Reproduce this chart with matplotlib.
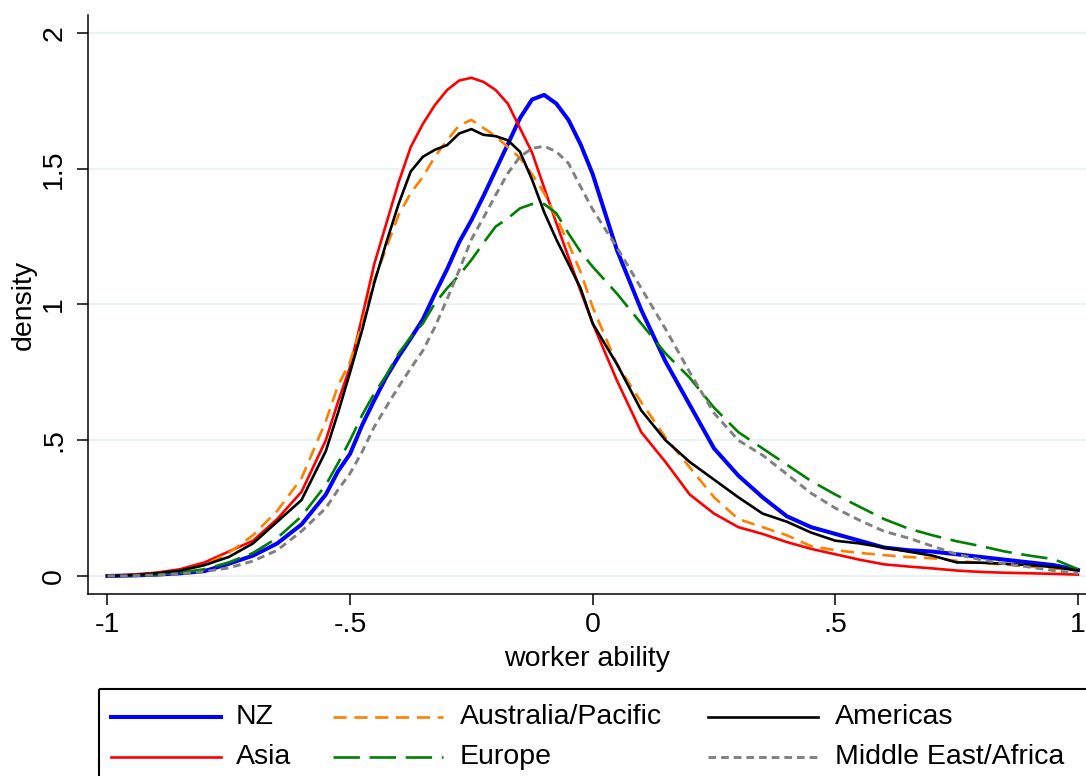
# -*- coding: utf_8 -*-
import numpy as np
import matplotlib
matplotlib.use('Agg')
import matplotlib.pyplot as plt
from matplotlib.patches import Rectangle
from matplotlib.lines import Line2D

plt.rcParams['font.family'] = ['Liberation Sans', 'DejaVu Sans']
plt.rcParams['lines.scale_dashes'] = False

# worker ability grid (finer around the peaks) and densities
ability = [-1.0, -0.95, -0.9, -0.85, -0.8, -0.75, -0.7, -0.65, -0.6, -0.55,
           -0.525, -0.5, -0.475, -0.45, -0.425, -0.4, -0.375, -0.35, -0.325, -0.3,
           -0.275, -0.25, -0.225, -0.2, -0.175, -0.15, -0.125, -0.1, -0.075, -0.05,
           -0.025, 0.0, 0.05, 0.1, 0.15, 0.2, 0.25, 0.3, 0.35, 0.4,
           0.45, 0.5, 0.55, 0.6, 0.65, 0.7, 0.75, 0.8, 0.85, 0.9,
           0.95, 1.0]

nz = [0.0, 0.002, 0.005, 0.01, 0.018, 0.045, 0.075, 0.12, 0.19, 0.30,
      0.385, 0.45, 0.556, 0.648, 0.734, 0.808, 0.875, 0.945, 1.04, 1.13,
      1.23, 1.31, 1.40, 1.495, 1.59, 1.686, 1.755, 1.772, 1.74, 1.68,
      1.59, 1.48, 1.20, 0.98, 0.79, 0.63, 0.47, 0.37, 0.29, 0.22,
      0.18, 0.155, 0.13, 0.105, 0.095, 0.09, 0.08, 0.07, 0.06, 0.05,
      0.04, 0.022]
asia = [0.0, 0.005, 0.012, 0.025, 0.05, 0.09, 0.13, 0.21, 0.31, 0.50,
        0.64, 0.77, 0.955, 1.15, 1.30, 1.45, 1.58, 1.665, 1.735, 1.79,
        1.825, 1.835, 1.82, 1.79, 1.74, 1.65, 1.56, 1.43, 1.30, 1.175,
        1.05, 0.93, 0.72, 0.53, 0.42, 0.30, 0.23, 0.18, 0.155, 0.125,
        0.10, 0.08, 0.06, 0.043, 0.035, 0.028, 0.02, 0.015, 0.012, 0.01,
        0.008, 0.005]
aus_pac = [0.0, 0.003, 0.01, 0.02, 0.04, 0.085, 0.15, 0.24, 0.36, 0.57,
           0.70, 0.79, 0.93, 1.09, 1.21, 1.33, 1.41, 1.47, 1.545, 1.605,
           1.66, 1.68, 1.65, 1.62, 1.58, 1.54, 1.48, 1.41, 1.32, 1.225,
           1.12, 0.99, 0.78, 0.64, 0.51, 0.40, 0.29, 0.21, 0.18, 0.15,
           0.11, 0.095, 0.085, 0.077, 0.07, 0.065, 0.056, 0.048, 0.042, 0.035,
           0.028, 0.02]
europe = [0.0, 0.002, 0.006, 0.012, 0.025, 0.05, 0.085, 0.14, 0.22, 0.335,
          0.415, 0.50, 0.593, 0.673, 0.74, 0.82, 0.88, 0.93, 1.005, 1.06,
          1.108, 1.164, 1.227, 1.287, 1.317, 1.354, 1.37, 1.37, 1.336, 1.262,
          1.194, 1.139, 1.04, 0.93, 0.82, 0.73, 0.62, 0.53, 0.47, 0.41,
          0.35, 0.30, 0.255, 0.21, 0.175, 0.15, 0.128, 0.11, 0.09, 0.075,
          0.062, 0.025]
americas = [0.0, 0.003, 0.01, 0.02, 0.04, 0.07, 0.12, 0.20, 0.28, 0.46,
            0.60, 0.75, 0.906, 1.08, 1.23, 1.37, 1.49, 1.544, 1.57, 1.587,
            1.63, 1.646, 1.625, 1.62, 1.605, 1.563, 1.46, 1.34, 1.24, 1.15,
            1.06, 0.93, 0.78, 0.61, 0.50, 0.42, 0.355, 0.29, 0.23, 0.20,
            0.16, 0.13, 0.12, 0.105, 0.09, 0.075, 0.05, 0.049, 0.045, 0.04,
            0.033, 0.02]
me_africa = [0.0, 0.001, 0.004, 0.008, 0.016, 0.03, 0.055, 0.095, 0.165, 0.25,
             0.317, 0.378, 0.458, 0.55, 0.624, 0.697, 0.765, 0.83, 0.918, 1.02,
             1.127, 1.24, 1.32, 1.403, 1.483, 1.544, 1.575, 1.583, 1.563, 1.52,
             1.434, 1.35, 1.21, 1.06, 0.91, 0.75, 0.60, 0.50, 0.445, 0.375,
             0.305, 0.25, 0.205, 0.165, 0.14, 0.11, 0.08, 0.06, 0.045, 0.033,
             0.02, 0.01]

xticks = [-1, -0.5, 0, 0.5, 1]
xticklabels = ['-1', '-.5', '0', '.5', '1']
yticks = [0, 0.5, 1, 1.5, 2]
yticklabels = ['0', '.5', '1', '1.5', '2']

# (label, data, color, lw, dashes)
series = [
    ('NZ', nz, '#0000FF', 2.9, None),
    ('Asia', asia, '#FF0000', 1.9, None),
    ('Australia/Pacific', aus_pac, '#FF8000', 1.9, (9.5, 5.5)),
    ('Europe', europe, '#008000', 1.9, (19, 7)),
    ('Americas', americas, '#000000', 1.9, None),
    ('Middle East/Africa', me_africa, '#808080', 2.1, (5.5, 3.6)),
]

W, H = 1086, 776
FS = 20.5
fig = plt.figure(figsize=(W / 100, H / 100), dpi=100)
ax = fig.add_axes([88 / W, 1 - 594 / H, 998 / W, 579 / H])

for lab, y, c, lw, d in series:
    line, = ax.plot(ability, y, color=c, lw=lw, solid_joinstyle='round')
    if d is not None:
        line.set_dashes(d)

ax.set_xlim(-1.040, 1.0165)
ax.set_ylim(-0.0663, 2.0663)
ax.set_xticks(xticks)
ax.set_xticklabels(xticklabels)
ax.set_yticks(yticks)
ax.set_yticklabels(yticklabels, rotation=90, va='center')
ax.grid(axis='y', color='#EAF2F3', lw=1.6, zorder=0)
ax.set_axisbelow(True)
for s in ['top', 'right']:
    ax.spines[s].set_visible(False)
for s in ['left', 'bottom']:
    ax.spines[s].set_linewidth(1.1)
ax.tick_params(axis='both', length=8, width=1.1, labelsize=FS)
ax.tick_params(axis='x', pad=5)
ax.tick_params(axis='y', pad=7)
ax.set_xlabel('worker ability', fontsize=FS, labelpad=6)
ax.set_ylabel('density', fontsize=FS, labelpad=3)

# legend box drawn in pixel space, it runs past the figure edge like the original
ov = fig.add_axes([0, 0, 1, 1], facecolor='none')
ov.set_xlim(0, W)
ov.set_ylim(H, 0)
ov.axis('off')
ov.add_patch(Rectangle((99, 689), 1100, 200, fill=False, ec='black', lw=1.5))
cols = [(111, 221, 236), (333, 443, 460), (708, 818, 835)]
rows = [717, 757]
order = [(0, 0), (1, 0), (0, 1), (1, 1), (0, 2), (1, 2)]
for (lab, y, c, lw, d), (r, k) in zip(series, order):
    x0, x1, xt = cols[k]
    ln = Line2D([x0, x1], [rows[r], rows[r]], color=c, lw=lw)
    if d is not None:
        ln.set_dashes(d)
    ov.add_line(ln)
    ov.text(xt, rows[r], lab, fontsize=FS, va='center', ha='left')

fig.savefig('out.png', dpi=100)
